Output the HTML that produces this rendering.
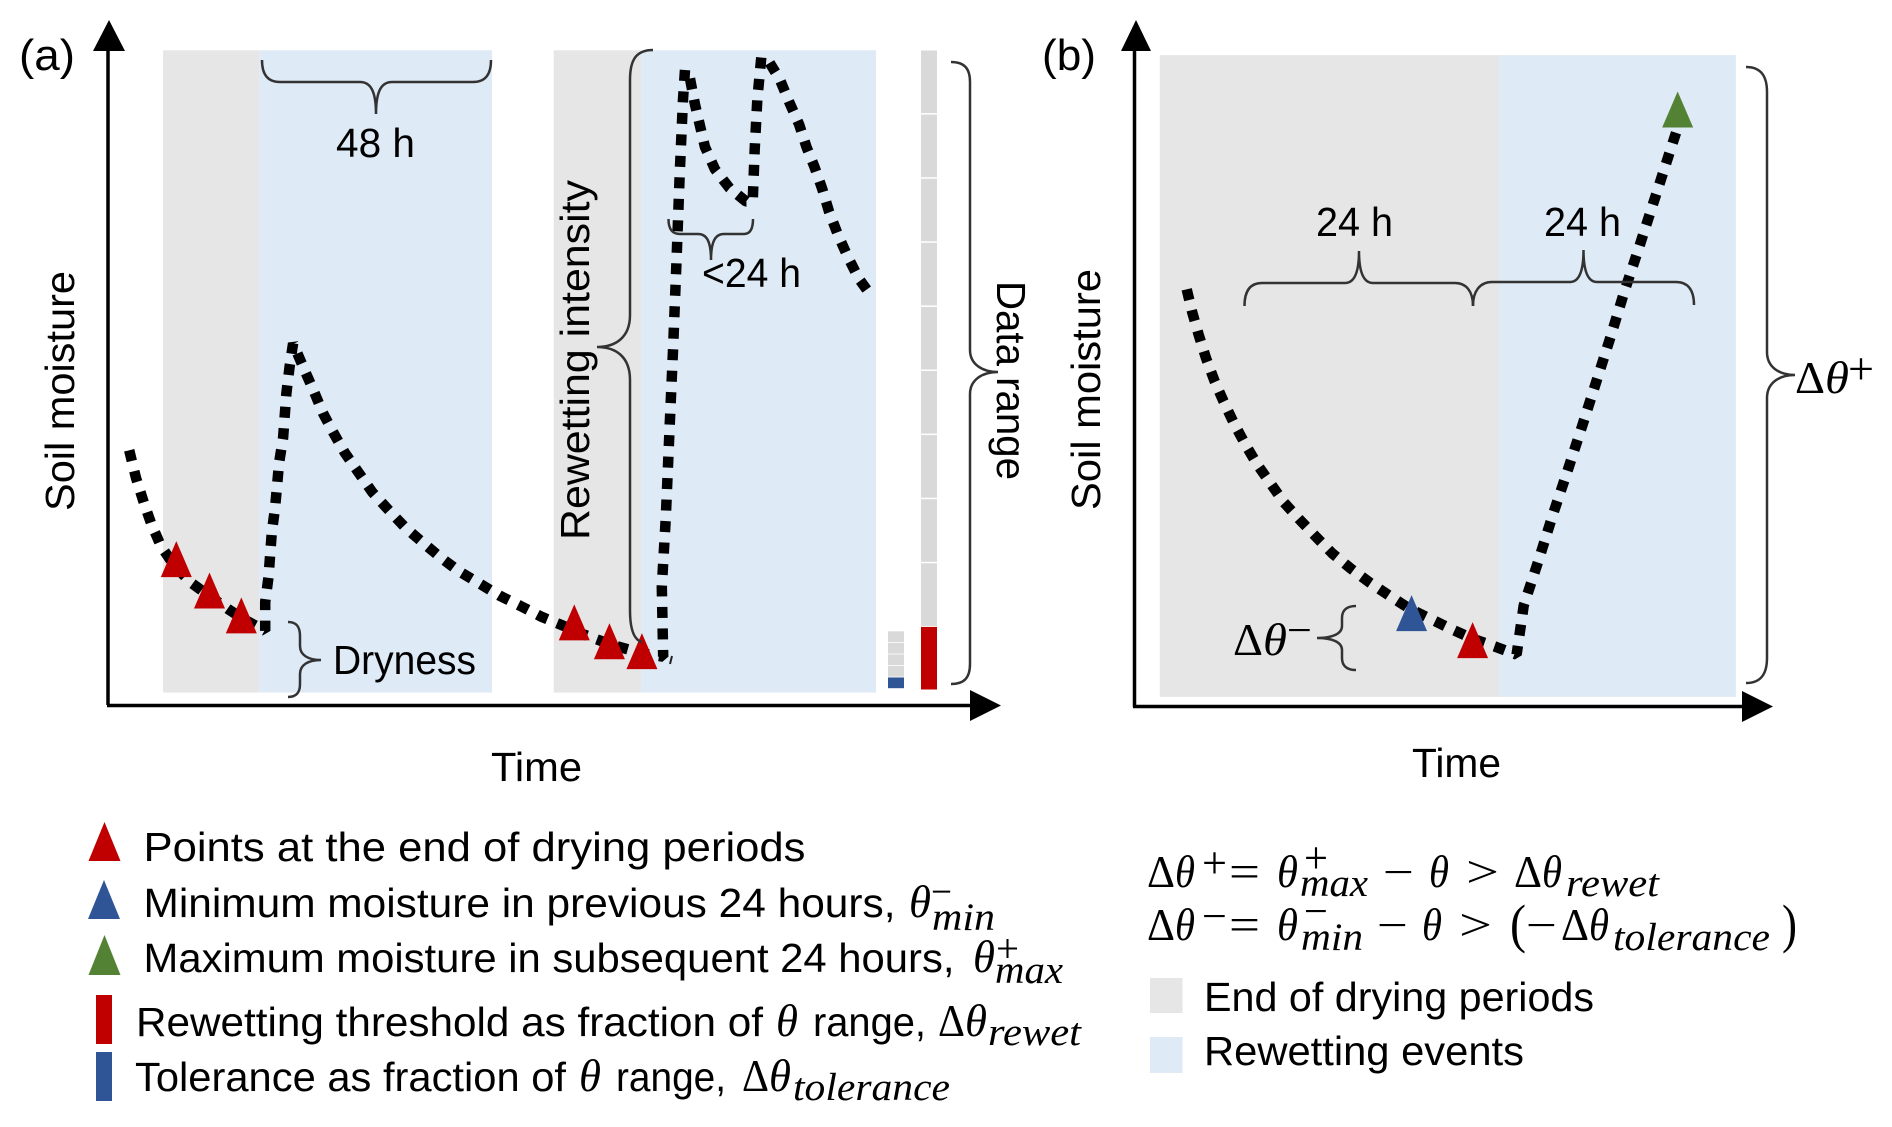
<!DOCTYPE html>
<html lang="en">
<head>
<meta charset="utf-8">
<title>Soil moisture rewetting event definition</title>
<style>
html,body{margin:0;padding:0;background:#fff;width:1892px;height:1127px;overflow:hidden}
svg{display:block}
text{fill:#000;font-family:"Liberation Sans",sans-serif;font-size:41px}
.m{font-family:"Liberation Serif",serif;font-size:45px}
.i{font-family:"Liberation Serif",serif;font-style:italic;font-size:45px}
.s{font-family:"Liberation Serif",serif;font-style:italic;font-size:39px}
.b{fill:none;stroke:#333;stroke-width:2.5}
</style>
</head>
<body>
<svg id="chart" xmlns="http://www.w3.org/2000/svg" width="1892" height="1127" viewBox="0 0 1892 1127">
<g id="panel-a"></g>
<g id="panel-b"></g>

<g>
<path d="M108 705V45" stroke="#000" stroke-width="3.5" fill="none"/>
<path d="M107 705.5H975" stroke="#000" stroke-width="3.5" fill="none"/>
<polygon points="109,20 93,51 125,51"/>
<polygon points="1001,705.5 970,690 970,721"/>
</g>
<g>
<path d="M1134.5 707V45" stroke="#000" stroke-width="3.5" fill="none"/>
<path d="M1133 706.5H1747" stroke="#000" stroke-width="3.5" fill="none"/>
<polygon points="1136,20 1121,51 1151,51"/>
<polygon points="1773,706.5 1742,691 1742,722"/>
</g>

<g>
<path class="b" d="M262 60C262 75 268 82 280 82L360 82C370 82 376 90 376 114C376 90 382 82 392 82L473 82C485 82 491 75 491 60"/>
<path class="b" d="M653 50C636 50 630 60 630 80L630 315C630 338 615 347 597 347C615 347 630 356 630 380L630 610C630 630 634 640 642 642"/>
<path class="b" d="M668.5 219C668.5 229 672 234 680 234L698 234C706 234 711 240 711 260C711 240 716 234 724 234L744 234C750 234 753 229 753 219"/>
<path class="b" d="M288 622C296 622 300 626 300 636L300 646C300 655 308 660 321 660C308 660 300 665 300 674L300 684C300 693 296 697 288 697"/>
<path class="b" d="M951 62C964 62 970 68 970 82L970 350C970 364 982 372 998 372C982 372 970 380 970 394L970 664C970 678 964 684 951 684"/>
<path d="M670 664L672 656" stroke="#222" stroke-width="2" fill="none"/>
</g>
<g>
<path class="b" d="M1244.5 306C1244.5 291 1250 283 1262 283L1345 283C1353 283 1359 275 1359 251C1359 275 1365 283 1373 283L1455 283C1466 283 1473 291 1473 306"/>
<path class="b" d="M1473 306C1473 291 1480 282 1492 282L1570 282C1578 282 1583.5 274 1583.5 250C1583.5 274 1589 282 1597 282L1676 282C1688 282 1694 290 1694 305"/>
<path class="b" d="M1746 67C1760 67 1767 75 1767 92L1767 352C1767 367 1779 375 1795 375C1779 375 1767 383 1767 398L1767 658C1767 675 1760 683 1746 683"/>
<path class="b" d="M1356 606C1347 606 1342 610 1342 618L1342 626C1342 634 1332 638 1317 638C1332 638 1342 642 1342 650L1342 658C1342 666 1347 670 1356 670"/>
</g>

<g>
<text x="19" y="70" textLength="56" lengthAdjust="spacingAndGlyphs" style="font-size:44px">(a)</text>
<text transform="translate(74,511) rotate(-90)" textLength="240" lengthAdjust="spacingAndGlyphs">Soil moisture</text>
<text x="491" y="781" textLength="91" lengthAdjust="spacingAndGlyphs">Time</text>
<text x="336" y="157" textLength="79" lengthAdjust="spacingAndGlyphs">48 h</text>
<text x="702" y="287" textLength="99" lengthAdjust="spacingAndGlyphs">&lt;24 h</text>
<text x="333" y="674" textLength="143" lengthAdjust="spacingAndGlyphs">Dryness</text>
<text transform="translate(589,540) rotate(-90)" textLength="360" lengthAdjust="spacingAndGlyphs">Rewetting intensity</text>
<text transform="translate(997,281) rotate(90)" textLength="199" lengthAdjust="spacingAndGlyphs">Data range</text>
</g>
<g>
<text x="1042" y="70" textLength="54" lengthAdjust="spacingAndGlyphs" style="font-size:44px">(b)</text>
<text transform="translate(1100,510) rotate(-90)" textLength="241" lengthAdjust="spacingAndGlyphs">Soil moisture</text>
<text x="1412" y="777" textLength="89" lengthAdjust="spacingAndGlyphs">Time</text>
<text x="1316" y="236" textLength="77" lengthAdjust="spacingAndGlyphs">24 h</text>
<text x="1544" y="236" textLength="77" lengthAdjust="spacingAndGlyphs">24 h</text>
<g>
<text class="m" x="1795" y="393" textLength="30" lengthAdjust="spacingAndGlyphs">Δ</text>
<text class="i" x="1825" y="393" textLength="24" lengthAdjust="spacingAndGlyphs">θ</text>
<text class="m" x="1848" y="384" textLength="26" lengthAdjust="spacingAndGlyphs">+</text>
</g>
<g>
<text class="m" x="1233" y="655" textLength="30" lengthAdjust="spacingAndGlyphs">Δ</text>
<text class="i" x="1263" y="655" textLength="24" lengthAdjust="spacingAndGlyphs">θ</text>
<text class="m" x="1287" y="645" textLength="25" lengthAdjust="spacingAndGlyphs">−</text>
</g>
</g>

<g>
<g>
<polygon points="104.5,822 88.5,861 120.5,861" fill="#C00000"/>
<text x="143.5" y="861" textLength="662" lengthAdjust="spacingAndGlyphs">Points at the end of drying periods</text>
</g>
<g>
<polygon points="104,880 88,919 120,919" fill="#2F5597"/>
<text x="143.5" y="917" textLength="752" lengthAdjust="spacingAndGlyphs">Minimum moisture in previous 24 hours,</text>
<text class="i" x="909" y="917" textLength="22" lengthAdjust="spacingAndGlyphs">θ</text>
<text class="m" x="931" y="905" textLength="21" lengthAdjust="spacingAndGlyphs" style="font-size:40px">−</text>
<text class="s" x="932" y="930" textLength="63" lengthAdjust="spacingAndGlyphs">min</text>
</g>
<g>
<polygon points="104.5,935 88.5,975 120.5,975" fill="#548235"/>
<text x="143.5" y="972" textLength="811" lengthAdjust="spacingAndGlyphs">Maximum moisture in subsequent 24 hours,</text>
<text class="i" x="973" y="972" textLength="22" lengthAdjust="spacingAndGlyphs">θ</text>
<text class="m" x="996" y="962" textLength="23" lengthAdjust="spacingAndGlyphs" style="font-size:40px">+</text>
<text class="s" x="995" y="983" textLength="68" lengthAdjust="spacingAndGlyphs">max</text>
</g>
<g>
<rect x="96" y="995" width="16" height="49" fill="#C00000"/>
<text x="136" y="1036" textLength="627" lengthAdjust="spacingAndGlyphs">Rewetting threshold as fraction of</text>
<text class="i" x="776" y="1036" textLength="22" lengthAdjust="spacingAndGlyphs">θ</text>
<text x="813" y="1036" textLength="113" lengthAdjust="spacingAndGlyphs">range,</text>
<text class="m" x="938" y="1036" textLength="27" lengthAdjust="spacingAndGlyphs">Δ</text>
<text class="i" x="965" y="1036" textLength="22" lengthAdjust="spacingAndGlyphs">θ</text>
<text class="s" x="988" y="1045" textLength="93" lengthAdjust="spacingAndGlyphs">rewet</text>
</g>
<g>
<rect x="96" y="1052" width="16" height="49" fill="#2F5597"/>
<text x="135" y="1091" textLength="431" lengthAdjust="spacingAndGlyphs">Tolerance as fraction of</text>
<text class="i" x="579" y="1091" textLength="22" lengthAdjust="spacingAndGlyphs">θ</text>
<text x="616" y="1091" textLength="110" lengthAdjust="spacingAndGlyphs">range,</text>
<text class="m" x="742" y="1091" textLength="27" lengthAdjust="spacingAndGlyphs">Δ</text>
<text class="i" x="769" y="1091" textLength="22" lengthAdjust="spacingAndGlyphs">θ</text>
<text class="s" x="793" y="1100" textLength="157" lengthAdjust="spacingAndGlyphs">tolerance</text>
</g>
</g>

<g>
<text class="m" x="1147" y="887" textLength="28" lengthAdjust="spacingAndGlyphs">Δ</text>
<text class="i" x="1175" y="887" textLength="20" lengthAdjust="spacingAndGlyphs">θ</text>
<text class="m" x="1202" y="878" textLength="25" lengthAdjust="spacingAndGlyphs">+</text>
<text class="m" x="1229" y="887" textLength="31" lengthAdjust="spacingAndGlyphs">=</text>
<text class="i" x="1277" y="887" textLength="21" lengthAdjust="spacingAndGlyphs">θ</text>
<text class="m" x="1304" y="873" textLength="24" lengthAdjust="spacingAndGlyphs">+</text>
<text class="s" x="1300" y="896" textLength="68" lengthAdjust="spacingAndGlyphs">max</text>
<text class="m" x="1383" y="887" textLength="31" lengthAdjust="spacingAndGlyphs">−</text>
<text class="i" x="1429" y="887" textLength="20" lengthAdjust="spacingAndGlyphs">θ</text>
<text class="m" x="1466" y="887" textLength="33" lengthAdjust="spacingAndGlyphs">&gt;</text>
<text class="m" x="1514" y="887" textLength="28" lengthAdjust="spacingAndGlyphs">Δ</text>
<text class="i" x="1542" y="887" textLength="20" lengthAdjust="spacingAndGlyphs">θ</text>
<text class="s" x="1566" y="896" textLength="93" lengthAdjust="spacingAndGlyphs">rewet</text>
</g>
<g>
<text class="m" x="1147" y="940" textLength="28" lengthAdjust="spacingAndGlyphs">Δ</text>
<text class="i" x="1175" y="940" textLength="20" lengthAdjust="spacingAndGlyphs">θ</text>
<text class="m" x="1202" y="931" textLength="25" lengthAdjust="spacingAndGlyphs">−</text>
<text class="m" x="1229" y="940" textLength="31" lengthAdjust="spacingAndGlyphs">=</text>
<text class="i" x="1277" y="940" textLength="21" lengthAdjust="spacingAndGlyphs">θ</text>
<text class="m" x="1304" y="926" textLength="24" lengthAdjust="spacingAndGlyphs">−</text>
<text class="s" x="1301" y="950" textLength="62" lengthAdjust="spacingAndGlyphs">min</text>
<text class="m" x="1377" y="940" textLength="31" lengthAdjust="spacingAndGlyphs">−</text>
<text class="i" x="1422" y="940" textLength="20" lengthAdjust="spacingAndGlyphs">θ</text>
<text class="m" x="1459" y="940" textLength="33" lengthAdjust="spacingAndGlyphs">&gt;</text>
<text class="m" x="1510" y="942" textLength="16" lengthAdjust="spacingAndGlyphs" style="font-size:54px">(</text>
<text class="m" x="1526" y="940" textLength="31" lengthAdjust="spacingAndGlyphs">−</text>
<text class="m" x="1561" y="940" textLength="28" lengthAdjust="spacingAndGlyphs">Δ</text>
<text class="i" x="1589" y="940" textLength="20" lengthAdjust="spacingAndGlyphs">θ</text>
<text class="s" x="1613" y="950" textLength="157" lengthAdjust="spacingAndGlyphs">tolerance</text>
<text class="m" x="1782" y="942" textLength="15" lengthAdjust="spacingAndGlyphs" style="font-size:54px">)</text>
</g>

<g>
<g>
<rect x="1150" y="978" width="32.5" height="35" fill="#E7E6E6"/>
<text x="1204" y="1011" textLength="390" lengthAdjust="spacingAndGlyphs">End of drying periods</text>
</g>
<g>
<rect x="1150" y="1037" width="32.5" height="36" fill="#DEEAF6"/>
<text x="1204" y="1065" textLength="320" lengthAdjust="spacingAndGlyphs">Rewetting events</text>
</g>
</g>
</svg>

<script>
// Panel (a) data: time and soil moisture in arbitrary axis units
const timeA = [32,42,54,65,80,99,124,155,182,205,237,237,242,247,252,258,264,269,274,279,295,310,324,340,357,378,399,423,448,474,501,529,559,590,622,654,687,717,757,802,837,835,841,847,852,857,862,867,870,877,885,900,915,937,962,972,975,979,985,997,1013,1027,1042,1053,1065,1077,1087,1100,1115,1132,1152];
const moistureA = [512,457,407,365,319,282,247,217,192,172,149,207,257,347,397,487,537,627,682,727,677,632,587,547,507,467,427,392,357,327,297,269,245,220,199,177,159,142,122,105,97,237,377,567,717,887,1067,1217,1277,1262,1207,1122,1077,1039,1012,1012,1117,1217,1302,1292,1257,1212,1167,1122,1082,1037,992,947,902,857,820];
const dryingEndTimeA = [103,153,201,703,756,805];
const dryingEndMoistureA = [257,194,144,130,92,72];
const dryingWindowsA = [[83,228],[672,804]];
const rewetWindowsA = [[228,579],[804,1158]];
const rewetThreshold = 0.1;
const rangeSegments = 10;
const tolerance = 0.018;
const toleranceSegments = 5;

// Panel (b) data
const timeB = [95,105,117,130,145,162,180,201,223,247,272,300,330,360,394,428,463,500,538,576,615,655,695,708,735,760,787,814,840,866,891,918,944,970,988];
const moistureB = [818,773,728,683,640,598,557,515,475,438,400,367,333,300,270,243,218,192,172,152,133,118,102,198,287,373,460,549,637,725,813,901,988,1075,1135];
const minTimeB = [504];
const minMoistureB = [148];
const dryEndTimeB = [615];
const dryEndMoistureB = [95];
const maxTimeB = [988];
const maxMoistureB = [1135];
const dryingWindowB = [46,663];
const rewetWindowB = [663,1094];

const NS = 'http://www.w3.org/2000/svg';
const xA = t => 108 + t / 1.5077;
const yA = m => 705 - m / 2.01;
const xB = t => 1134.5 + t / 1.819;
const yB = m => 706.6 - m / 1.96;
const barY = f => 691 - 641 * f;
const TRI_W = 31, TRI_H = 36;

function make(tag, parent, attrs) {
  const el = document.createElementNS(NS, tag);
  for (const k in attrs) el.setAttribute(k, attrs[k]);
  parent.appendChild(el);
  return el;
}
function shade(parent, x0, x1, top, bottom, fill, name) {
  const el = make('rect', parent, {x: x0, y: top, width: x1 - x0, height: bottom - top, fill: fill});
  
  
}
function series(parent, xs, ys, name) {
  const d = xs.map((x, i) => (i ? 'L' : 'M') + x.toFixed(1) + ' ' + ys[i].toFixed(1)).join('');
  const el = make('path', parent, {d: d, fill: 'none', stroke: '#000', 'stroke-width': 10.5, 'stroke-dasharray': '11 10.5', 'stroke-linejoin': 'bevel'});
  
  
}
function tri(parent, x, y, fill, name) {
  const pts = x + ',' + (y - TRI_H) + ' ' + (x - TRI_W / 2) + ',' + y + ' ' + (x + TRI_W / 2) + ',' + y;
  const el = make('polygon', parent, {points: pts, fill: fill});
  
  
}

const a = document.getElementById('panel-a');
const b = document.getElementById('panel-b');
const topA = yA(1316), botA = yA(25);
dryingWindowsA.forEach(w => shade(a, xA(w[0]), xA(w[1]), topA, botA, '#E7E6E6', 'drying-period-shade-a'));
rewetWindowsA.forEach(w => shade(a, xA(w[0]), xA(w[1]), topA, botA, '#DEEAF6', 'rewetting-event-shade-a'));

// stacked fraction bars
for (let i = 0; i < rangeSegments; i++) {
  const h = 1 / rangeSegments;
  const isRed = i * h < rewetThreshold - 1e-9;
  const seg = make('rect', a, {x: 921, y: barY((i + 1) * h) + (isRed ? 0 : 0.5), width: 16, height: 641 * h - 1.5, fill: isRed ? '#C00000' : '#D9D9D9'});
  
  
}
for (let i = 0; i < toleranceSegments; i++) {
  const isBlue = i === 0;
  const seg = make('rect', a, {x: 888, y: barY((i + 1) * tolerance) - 2, width: 16, height: 641 * tolerance - 0.8, fill: isBlue ? '#2F5597' : '#D9D9D9'});
  
  
}

series(a, timeA.map(xA), moistureA.map(yA), 'soil-moisture-series-a');
dryingEndTimeA.forEach((t, i) => tri(a, xA(t), yA(dryingEndMoistureA[i]), '#C00000', 'drying-end-point-a'));

const topB = yB(1277), botB = yB(19);
shade(b, xB(dryingWindowB[0]), xB(dryingWindowB[1]), topB, botB, '#E7E6E6', 'drying-period-shade-b');
shade(b, xB(rewetWindowB[0]), xB(rewetWindowB[1]), topB, botB, '#DEEAF6', 'rewetting-event-shade-b');
series(b, timeB.map(xB), moistureB.map(yB), 'soil-moisture-series-b');
minTimeB.forEach((t, i) => tri(b, xB(t), yB(minMoistureB[i]), '#2F5597', 'minimum-moisture-point'));
dryEndTimeB.forEach((t, i) => tri(b, xB(t), yB(dryEndMoistureB[i]), '#C00000', 'drying-end-point-b'));
maxTimeB.forEach((t, i) => tri(b, xB(t), yB(maxMoistureB[i]), '#548235', 'maximum-moisture-point'));
</script>
</body>
</html>
